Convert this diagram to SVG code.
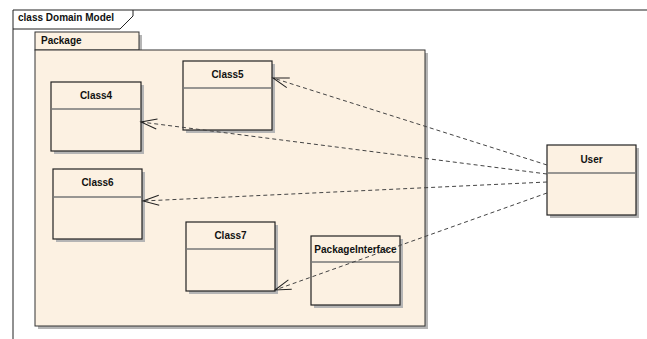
<svg xmlns="http://www.w3.org/2000/svg" width="647" height="339" viewBox="0 0 647 339">
  <style>
    .bg { fill: #ffffff; }
    .frame { fill: none; stroke: #222; stroke-width: 1; }
    .label { font-family: "Liberation Sans", Arial, sans-serif; font-size: 10px; font-weight: bold; fill: #111; }
    .cls { fill: #FCF1E2; stroke: #222; stroke-width: 1.2; }
    .div { stroke: #777; stroke-width: 1.5; }
    .shadow { fill: #B5B5B5; }
    .pkg { fill: #FCF1E2; stroke: #333; stroke-width: 1; }
    .dep { fill: none; stroke: #444; stroke-width: 1; stroke-dasharray: 4 3; }
  </style>
  <defs>
    <marker id="open" markerUnits="userSpaceOnUse" markerWidth="20" markerHeight="14" viewBox="-18 -7 20 14" refX="0" refY="0" orient="auto">
      <path d="M-16,-5 L0,0 L-16,5" fill="none" stroke="#222" stroke-width="1"/>
    </marker>
  </defs>
  <rect class="bg" x="0" y="0" width="647" height="339"/>

  <!-- diagram frame -->
  <g id="frame">
    <path class="frame" d="M13,339 L13,10 L647,10"/>
    <path class="frame" d="M13,29 L120,29 L133,16 L133,10"/>
    <text class="label" x="18" y="21">class Domain Model</text>
  </g>

  <!-- package container -->
  <g id="Package">
    <rect class="shadow" x="139" y="35" width="3" height="15"/>
    <rect class="shadow" x="425" y="53" width="3" height="276"/>
    <rect class="shadow" x="38" y="326" width="390" height="3"/>
    <rect class="pkg" x="35" y="32" width="104" height="18"/>
    <rect class="pkg" x="35" y="50" width="390" height="276"/>
    <text class="label" x="41" y="44">Package</text>
  </g>

  <g id="Class4">
    <rect class="shadow" x="54" y="85" width="90" height="69"/>
    <rect class="cls" x="51" y="82" width="90" height="69"/>
    <line class="div" x1="51" y1="109" x2="141" y2="109"/>
    <text class="label" x="96" y="99" text-anchor="middle">Class4</text>
  </g>

  <g id="Class5">
    <rect class="shadow" x="186" y="64" width="89" height="69"/>
    <rect class="cls" x="183" y="61" width="89" height="69"/>
    <line class="div" x1="183" y1="88" x2="272" y2="88"/>
    <text class="label" x="227.5" y="78" text-anchor="middle">Class5</text>
  </g>

  <g id="Class6">
    <rect class="shadow" x="56" y="172" width="89" height="70"/>
    <rect class="cls" x="53" y="169" width="89" height="70"/>
    <line class="div" x1="53" y1="197" x2="142" y2="197"/>
    <text class="label" x="97.5" y="186" text-anchor="middle">Class6</text>
  </g>

  <g id="Class7">
    <rect class="shadow" x="189" y="225" width="89" height="69"/>
    <rect class="cls" x="186" y="222" width="89" height="69"/>
    <line class="div" x1="186" y1="249" x2="275" y2="249"/>
    <text class="label" x="230.5" y="239" text-anchor="middle">Class7</text>
  </g>

  <g id="PackageInterface">
    <rect class="shadow" x="314" y="239" width="89" height="69"/>
    <rect class="cls" x="311" y="236" width="89" height="69"/>
    <line class="div" x1="311" y1="262" x2="400" y2="262"/>
    <text class="label" x="355.5" y="253" text-anchor="middle">PackageInterface</text>
  </g>

  <g id="User">
    <rect class="shadow" x="550" y="148" width="89" height="70"/>
    <rect class="cls" x="547" y="145" width="89" height="70"/>
    <line class="div" x1="547" y1="173" x2="636" y2="173"/>
    <text class="label" x="591.5" y="163" text-anchor="middle">User</text>
  </g>

  <!-- dependency connectors -->
  <g id="connectors">
    <line class="dep" x1="547" y1="165" x2="273" y2="78" marker-end="url(#open)"/>
    <line class="dep" x1="547" y1="174" x2="141" y2="122" marker-end="url(#open)"/>
    <line class="dep" x1="547" y1="182" x2="143" y2="201" marker-end="url(#open)"/>
    <line class="dep" x1="547" y1="193" x2="275" y2="290" marker-end="url(#open)"/>
  </g>
</svg>
